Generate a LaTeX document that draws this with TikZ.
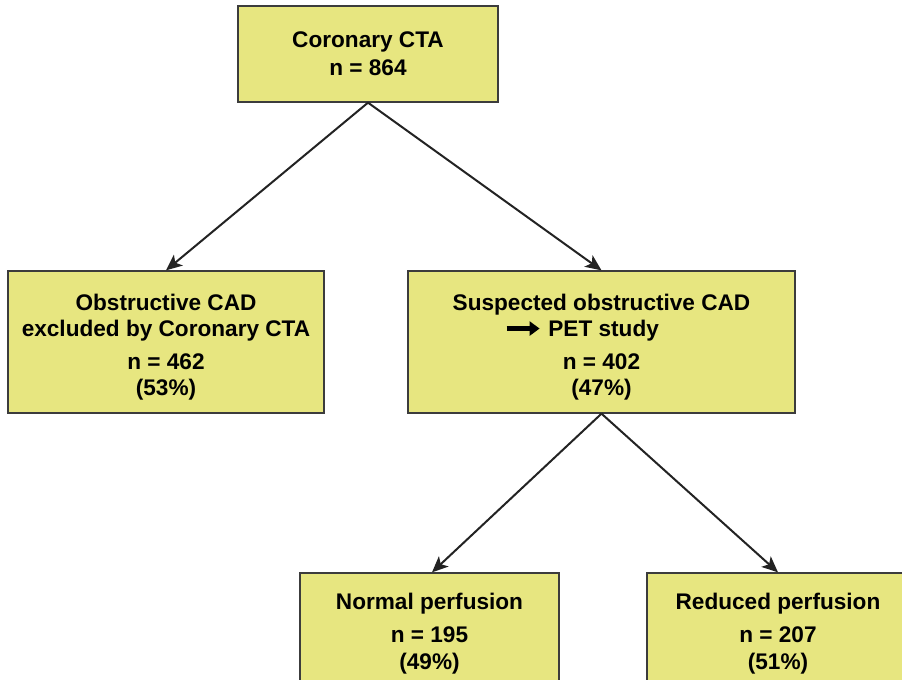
\documentclass[tikz,border=0pt]{standalone}
\usepackage{fontspec}
\setmainfont{Liberation Sans}
\usetikzlibrary{arrows.meta}
\definecolor{boxfill}{RGB}{231,230,128}
\definecolor{boxline}{RGB}{60,60,60}
\definecolor{arrowcol}{RGB}{35,35,35}
\begin{document}
\begin{tikzpicture}[x=1bp,y=-1bp,
  flowbox/.style={draw=boxline,line width=1.3bp,fill=boxfill,align=center,inner sep=0pt,
    font=\bfseries\fontsize{22.6bp}{26bp}\selectfont},
  flowarrow/.style={draw=arrowcol,line width=2bp,-{Stealth[length=16bp,width=14bp,inset=4bp]}}]
\useasboundingbox (0,0) rectangle (902,680);
\clip (0,0) rectangle (902,680);
\node[flowbox,minimum width=260bp,minimum height=96bp,font=\bfseries\fontsize{22.6bp}{28bp}\selectfont] (cta) at (368,54) {Coronary CTA\\n = 864};
\node[flowbox,minimum width=316bp,minimum height=142bp,text depth=0bp] (excl) at (166,342)
  {\rule{0pt}{21bp}Obstructive CAD\\excluded by Coronary CTA\\[7bp]n = 462\\(53\%)};
\node[flowbox,minimum width=387bp,minimum height=142bp,text depth=0bp] (susp) at (601.5,342)
  {\rule{0pt}{21bp}Suspected obstructive CAD\\\tikz[baseline=-0.33em]\draw[line width=5bp,-{Triangle[length=10bp,width=14bp]}] (0,0) -- (33bp,0);\ PET study\hspace*{40bp}\mbox{}\\[7bp]n = 402\\(47\%)};
\node[flowbox,minimum width=259bp,minimum height=116bp,text depth=0bp,font=\bfseries\fontsize{22.6bp}{27bp}\selectfont] (norm) at (429.5,631)
  {Normal perfusion\\[6bp]n = 195\\(49\%)};
\node[flowbox,minimum width=262bp,minimum height=116bp,text depth=0bp,font=\bfseries\fontsize{22.6bp}{27bp}\selectfont] (red) at (778,631)
  {Reduced perfusion\\[6bp]n = 207\\(51\%)};
\draw[flowarrow] (cta.south) -- (excl.north);
\draw[flowarrow] (cta.south) -- (susp.north);
\draw[flowarrow] (susp.south) -- ([xshift=2.5bp]norm.north);
\draw[flowarrow] (susp.south) -- (red.north);
\end{tikzpicture}
\end{document}
